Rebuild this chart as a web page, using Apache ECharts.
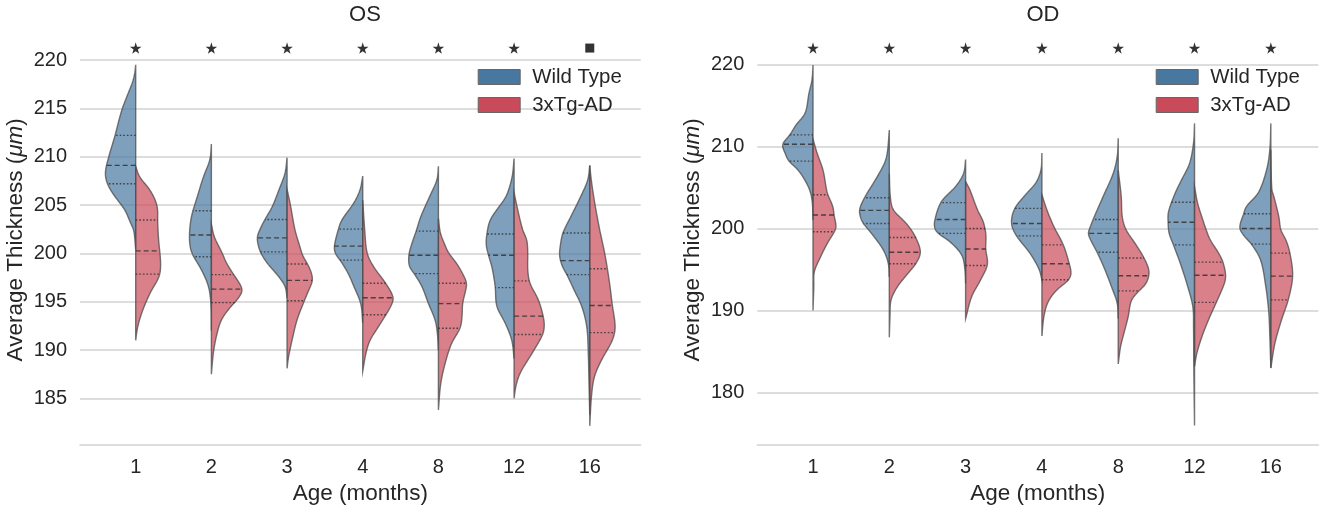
<!DOCTYPE html>
<html>
<head>
<meta charset="utf-8">
<style>
  html, body { margin: 0; padding: 0; background: #fff; }
  #chart { width: 1325px; height: 508px; }
</style>
<script src="https://cdn.jsdelivr.net/npm/echarts@6/dist/echarts.min.js"></script>
</head>
<body>
<div id="chart"></div>
<script>
const ages = ['1', '2', '3', '4', '8', '12', '16'];
const osTicks = [185, 190, 195, 200, 205, 210, 215, 220];
const odTicks = [180, 190, 200, 210, 220];
const osMarkers = ['star', 'star', 'star', 'star', 'star', 'star', 'square'];
const odMarkers = ['star', 'star', 'star', 'star', 'star', 'star', 'star'];

// [thickness, density], one list per age
const osWild = [
  [[219.5,0],[218.6,1],[217.75,3],[216.7,7],[214.8,14],[212.1,21],[210,27],[208.3,30.5],[207.1,28],[205.9,21],[204.5,11],[203.1,5],[202.4,2],[200.4,0]],
  [[211.3,0],[209.7,1.5],[207.9,8],[205.9,14],[203.8,20],[201.9,22],[200.5,21],[199.7,18],[198.3,10],[196.6,3],[194.8,0.5],[192,0]],
  [[209.9,0],[208.3,2],[206.6,8],[204.8,15],[203.4,22.7],[202.4,27.5],[201.6,30],[200.2,27],[199,20],[197.8,10],[196.6,2],[195.35,0]],
  [[208,0],[206.6,2.6],[205.2,9],[203.45,21],[202.5,24.4],[200.8,28.4],[200,27.7],[199.3,22.7],[197.9,14.5],[196.6,9],[194.8,2],[192.8,0]],
  [[209,0],[207.6,1.5],[205.9,8.7],[203.8,17.7],[202.3,22.3],[201,26.7],[199.8,29.7],[198.6,29],[197.9,24.3],[196.6,16.7],[194.8,10],[193.1,3.3],[191.7,1],[190,0]],
  [[209.8,0],[207.9,2],[205.9,8],[204.7,16],[203.45,24],[202,27.3],[200.9,28],[199.8,25.7],[198.6,22.3],[196.6,19],[194.5,17.3],[192.8,9],[191,2.3],[189.1,0]],
  [[209.1,0],[207.6,2],[205.9,9],[203.8,19],[202.1,27],[200.7,29.7],[199.7,30.3],[198.6,27.3],[197.8,23],[196.2,15.7],[194.5,8],[192.4,3],[189.7,1.5],[186.2,0.7],[183.3,0]]
];
const osAd = [
  [[209,0],[207.9,4],[206.6,14],[205.4,20],[204.5,22],[203.45,22],[201.4,23],[199,25],[197.6,23.5],[196,15],[194.1,7],[192.4,2],[191,0]],
  [[203,0],[201.7,3],[200,11],[199.1,14.7],[197.9,21.7],[197.1,27],[196.2,31],[195.35,27],[194.3,18],[193.1,10],[191.4,5],[189.7,2],[187.5,0]],
  [[206.6,0],[205.2,3],[202.4,8],[201,12],[199.7,16],[199,20],[198.1,24],[197.2,25.5],[196,21],[195,17],[193.1,10],[191,5],[189.3,1.5],[188.1,0]],
  [[205.5,0],[202.4,2],[200,4.5],[198.6,11],[196.9,23],[195.4,30.7],[194.5,28],[193.65,23.3],[192.4,15.7],[191,7.3],[189.7,3.3],[187.8,0]],
  [[203.6,0],[202.1,2],[201,6],[200,10.5],[199,18],[197.9,24.3],[196.9,28.3],[195.9,26.7],[194.8,24.3],[193.45,23.7],[192.25,21.7],[190.7,13.3],[188.6,6.7],[186.5,2.3],[183.8,0]],
  [[206.3,0],[204.8,3],[202.4,8.7],[201.4,12.7],[200,13.7],[198.3,13.7],[196.9,16],[195.2,24.3],[193.45,29.3],[192.4,30.3],[191.5,28.3],[189.6,17.7],[187.6,6],[186.2,1.7],[185,0]],
  [[209.1,0],[207.6,1.5],[205.2,5],[202.4,10],[201.7,11.5],[200,15],[198.4,17.7],[196.6,20.3],[194.6,22.7],[192.8,25.3],[191.8,25],[190.7,21.3],[189,12],[187.25,4.7],[185.2,1.7],[182.15,0]]
];
const odWild = [
  [[219.9,0],[218.1,1],[216.5,4],[214,8],[212.6,17],[211.4,23],[210.25,30.3],[209.15,27.7],[208.2,24],[207.1,14.7],[205.1,4.7],[203.5,1],[201,0]],
  [[212,0],[209.2,2],[207.9,5],[205.9,14],[203.9,24],[202.25,29.7],[201,27.7],[200.55,25.5],[199.4,17.7],[197.4,6],[195.75,1],[194.1,0]],
  [[208.4,0],[206.7,2],[205.1,10],[203.3,24],[201,30.7],[200,30.7],[199.4,27.3],[198.4,15.7],[196.8,4],[195,0.7],[193.3,0]],
  [[209.2,0],[207.1,1],[205.5,6.3],[204.3,15],[202.45,27],[200.6,30.3],[199.1,25.3],[197,12],[195,2.7],[193.7,0]],
  [[211,0],[208.75,1],[206.7,5],[203.9,15],[201.1,25],[199.8,29],[199.4,30],[198.4,26.7],[197.1,21],[195,13.3],[192.9,6.7],[190.9,1],[189,0]],
  [[212.8,0],[210.4,1],[207.9,5],[205.9,13],[204.3,19.3],[202,26],[200.75,26.3],[199.4,25.3],[198,21],[195.8,14.3],[193.3,7.7],[190.5,1.7],[188,1],[182.8,0.7],[176,0]],
  [[212.8,0],[209.6,1],[207.1,4.3],[204.3,12.7],[202.7,24.3],[201.8,27],[200.05,31],[199,26],[198.1,19.3],[196.2,10.3],[192.9,5],[189.7,2],[186.8,1],[183,0]]
];
const odAd = [
  [[210.9,0],[209.2,4],[207.1,10],[204.3,14.3],[202.7,19.7],[201.6,21],[200.2,23],[199.6,21.3],[198.2,14.3],[196.4,7],[194.75,1.3],[192.9,0.8],[190,0]],
  [[206.7,0],[203.9,1],[202.25,4],[201,14],[200.2,19.7],[198.9,26.3],[197.1,31],[195.7,26.3],[194.35,17.3],[192.9,8],[191.3,1.7],[189.3,0.7],[186.75,0]],
  [[205.7,0],[204.7,4.3],[202.3,11.7],[201,17],[200,19.3],[199,20.3],[197.5,20],[195.6,21.7],[193.75,15],[191.7,6],[189,0]],
  [[204.1,0],[202.25,5],[200.2,12],[198,21.3],[195.8,27],[194.55,29],[193.7,26.3],[192.5,14.7],[191.1,6.3],[189.3,2],[186.9,0]],
  [[207.1,0],[203.9,3],[201.4,4],[199.8,8],[198.2,16.7],[196.4,25.7],[194.75,30.7],[193.3,27.7],[192.4,20.7],[191.3,13.3],[189.3,10],[187.25,5.7],[185.6,2.3],[183.5,0]],
  [[205.1,0],[203.1,3],[201.4,7.3],[199.8,11.7],[198.6,15.7],[197,24],[195.9,28.3],[194.3,31],[193.3,29.7],[191,21.7],[188.9,14],[186.8,7.3],[184.8,2.3],[183.2,0]],
  [[209.6,0],[204.7,1],[203.9,3],[201.4,8],[199.8,10],[198.6,15],[197,19],[194.2,21.7],[191.3,17.3],[188.9,10.7],[186,4],[183,0]]
];

// upper quartile, median, lower quartile
const osWildQuart = [[212.2,209.1,207.2],[204.4,201.9,199.65],[203.5,201.6,200.15],[202.5,200.75,199.3],[202.3,199.8,197.9],[202,199.8,196.45],[202.1,199.25,197.8]];
const osAdQuart = [[203.45,200.25,197.85],[197.8,196.3,194.9],[198.9,197.2,195.1],[196.9,195.4,193.65],[196.9,194.8,192.25],[197.15,193.5,191.6],[198.4,194.6,191.8]];
const odWildQuart = [[211.4,210.25,208.2],[203.75,202.2,200.6],[203.15,201.1,199.4],[202.45,200.6,199.1],[201.1,199.4,197.1],[203.2,200.75,198],[201.8,200,198.1]];
const odAdQuart = [[204.1,201.65,199.6],[198.9,197.1,195.7],[200,197.5,195.5],[198,195.7,193.75],[196.4,194.25,192.4],[195.9,194.3,191],[197,194.2,191.3]];

const FONT = '"Liberation Sans", Arial, sans-serif';
const TEXT = '#262626';
const GRID = '#d2d2d2';
const BLUE = '#4878a0';
const RED = '#c94a58';
const SLOT_PX = 76; // density is in px of one age slot
const STAR = 'path://M50 0L61 35L98 35L68 57L79 91L50 70L21 91L32 57L2 35L39 35Z';

// cubic through a profile, averaged a little so read-off kinks don't show
function makeDensity(profile) {
  const pts = profile.slice().sort((a, b) => a[0] - b[0]);
  const n = pts.length;
  const m = [];
  for (let i = 0; i < n; i++) {
    const a = pts[Math.max(i - 1, 0)], b = pts[Math.min(i + 1, n - 1)];
    m.push((b[1] - a[1]) / (b[0] - a[0]));
  }
  const raw = function (v) {
    if (v <= pts[0][0] || v >= pts[n - 1][0]) return 0;
    let i = 0;
    while (v > pts[i + 1][0]) i++;
    const h = pts[i + 1][0] - pts[i][0];
    const t = (v - pts[i][0]) / h;
    const t2 = t * t, t3 = t2 * t;
    const d = (2 * t3 - 3 * t2 + 1) * pts[i][1] + (t3 - 2 * t2 + t) * h * m[i]
      + (-2 * t3 + 3 * t2) * pts[i + 1][1] + (t3 - t2) * h * m[i + 1];
    return Math.max(d, 0);
  };
  return (v) => (raw(v - 0.3) + 2 * raw(v) + raw(v + 0.3)) / 4;
}

function violinSeries(name, profiles, quarts, side, color, panel) {
  const densities = profiles.map(makeDensity);
  return {
    name: name,
    type: 'custom',
    xAxisIndex: panel,
    yAxisIndex: panel,
    clip: false,
    itemStyle: { color: color },
    encode: { x: 0, y: 1 },
    data: ages.map((a, i) => [i, quarts[i][1]]),
    renderItem: function (params, api) {
      const i = api.value(0);
      const profile = profiles[i];
      const density = densities[i];
      const top = profile[0][0];
      const bottom = profile[profile.length - 1][0];
      const offset = (d) => side * d / SLOT_PX;
      const points = [api.coord([i, top])];
      const steps = Math.round((top - bottom) * 6);
      for (let k = 1; k < steps; k++) {
        const v = top - (top - bottom) * k / steps;
        points.push(api.coord([i + offset(density(v)), v]));
      }
      points.push(api.coord([i, bottom]));
      const fill = echarts.color.modifyAlpha(color, 0.7);
      const children = [{
        type: 'polygon',
        shape: { points: points },
        style: { fill: fill, stroke: 'rgba(75,75,75,0.75)', lineWidth: 1.4 }
      }];
      quarts[i].forEach(function (q, idx) {
        const a = api.coord([i, q]);
        const b = api.coord([i + offset(density(q)), q]);
        children.push({
          type: 'line',
          shape: { x1: a[0], y1: a[1], x2: b[0], y2: b[1] },
          style: {
            stroke: 'rgba(50,50,50,0.85)',
            lineWidth: 1.4,
            lineDash: idx === 1 ? [5, 3] : [1.6, 2]
          }
        });
      });
      return { type: 'group', children: children };
    }
  };
}

function markerSeries(markers, y, panel) {
  return {
    type: 'scatter',
    xAxisIndex: panel,
    yAxisIndex: panel,
    silent: true,
    symbol: (val, p) => markers[p.dataIndex] === 'star' ? STAR : 'rect',
    symbolSize: (val, p) => markers[p.dataIndex] === 'star' ? 11.5 : 9,
    itemStyle: { color: '#333', opacity: 1 },
    data: markers.map((m, i) => [i, y])
  };
}

function xAxisOpt(min, max, panel) {
  return {
    type: 'value',
    gridIndex: panel,
    min: min,
    max: max,
    name: 'Age (months)',
    nameLocation: 'middle',
    nameGap: 34,
    nameTextStyle: { fontFamily: FONT, fontSize: 22.5, color: TEXT },
    axisLine: { show: true, onZero: false, lineStyle: { color: GRID, width: 1.5 } },
    axisTick: { show: false, customValues: [0, 1, 2, 3, 4, 5, 6] },
    splitLine: { show: false },
    axisLabel: {
      customValues: [0, 1, 2, 3, 4, 5, 6],
      formatter: (v) => ages[v],
      margin: 12,
      fontFamily: FONT,
      fontSize: 20,
      color: TEXT
    }
  };
}

function yAxisOpt(min, max, ticks, panel, gap) {
  return {
    type: 'value',
    gridIndex: panel,
    min: min,
    max: max,
    name: '{a|Average Thickness (}{b|μm}{a|)}',
    nameLocation: 'middle',
    nameGap: gap,
    nameTextStyle: {
      padding: [0, 0, 0, 6],
      rich: {
        a: { fontFamily: FONT, fontSize: 22.5, color: TEXT },
        b: { fontFamily: FONT, fontSize: 22.5, color: TEXT, fontStyle: 'italic' }
      }
    },
    axisLine: { show: false },
    axisTick: { show: false, customValues: ticks },
    splitLine: { show: true, lineStyle: { color: GRID, width: 1.5 } },
    axisLabel: {
      customValues: ticks,
      margin: 13,
      padding: [3, 0, 0, 0],
      fontFamily: FONT,
      fontSize: 20,
      color: TEXT
    }
  };
}

function legendOpt(left) {
  return {
    orient: 'vertical',
    left: left,
    top: 62,
    itemWidth: 42,
    itemHeight: 15,
    itemGap: 8,
    selectedMode: false,
    itemStyle: { borderColor: '#666', borderWidth: 1 },
    textStyle: { fontFamily: FONT, fontSize: 20.4, color: TEXT, padding: [0, 0, 0, 7] },
    data: [
      { name: 'Wild Type', icon: 'rect' },
      { name: '3xTg-AD', icon: 'rect' }
    ]
  };
}

const chart = echarts.init(document.getElementById('chart'), null, { renderer: 'canvas' });
chart.setOption({
  animation: false,
  backgroundColor: '#fff',
  title: [
    { text: 'OS', left: 360, top: -1, textAlign: 'center', textStyle: { fontFamily: FONT, fontSize: 22, fontWeight: 'normal', color: TEXT } },
    { text: 'OD', left: 1038, top: -1, textAlign: 'center', textStyle: { fontFamily: FONT, fontSize: 22, fontWeight: 'normal', color: TEXT } }
  ],
  legend: [legendOpt(472.7), legendOpt(1150.7)],
  grid: [
    { left: 80, width: 560.7, top: 40.7, height: 404.3, outerBoundsMode: 'none' },
    { left: 757.3, width: 561, top: 40.7, height: 404.3, outerBoundsMode: 'none' }
  ],
  xAxis: [xAxisOpt(-0.736, 6.673, 0), xAxisOpt(-0.73, 6.622, 1)],
  yAxis: [yAxisOpt(180.17, 222, osTicks, 0, 53), yAxisOpt(173.63, 222.87, odTicks, 1, 53)],
  series: [
    violinSeries('Wild Type', osWild, osWildQuart, -1, BLUE, 0),
    violinSeries('3xTg-AD', osAd, osAdQuart, 1, RED, 0),
    violinSeries('Wild Type', odWild, odWildQuart, -1, BLUE, 1),
    violinSeries('3xTg-AD', odAd, odAdQuart, 1, RED, 1),
    markerSeries(osMarkers, 221.24, 0),
    markerSeries(odMarkers, 221.98, 1)
  ]
});
</script>
</body>
</html>
